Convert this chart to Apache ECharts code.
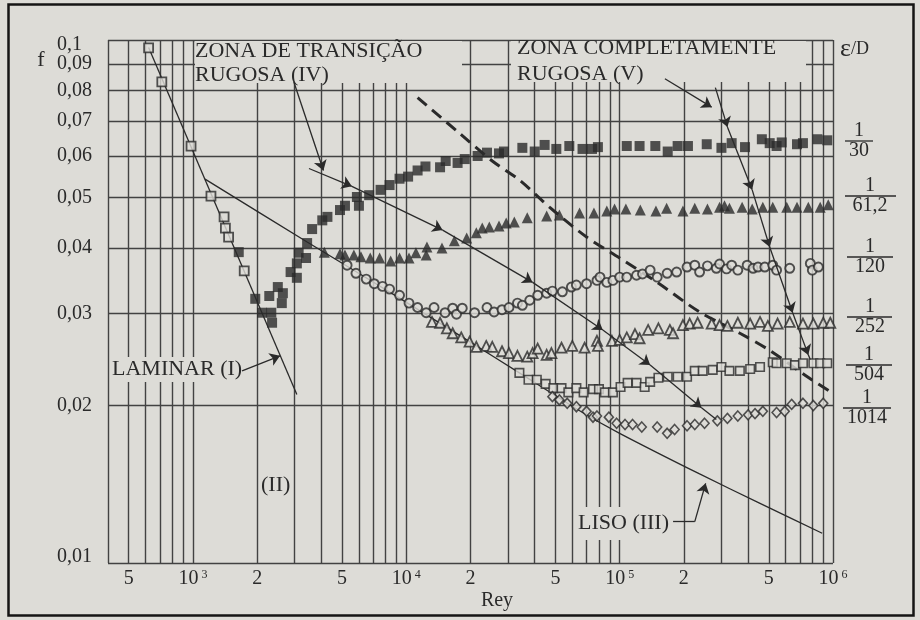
<!DOCTYPE html>
<html><head><meta charset="utf-8">
<script src="https://cdn.jsdelivr.net/npm/echarts@6/dist/echarts.min.js"></script>
<style>html,body{margin:0;padding:0;background:#dddcd7;}#c{width:920px;height:620px;}</style>
</head><body><div id="c"></div><script>
const BG = '#dddcd7', INK = '#2a2a2a', GRIDC = '#424242';
const FONT = '"Liberation Serif","DejaVu Serif",serif';

// ---- axes / grid values ----
const xGrid = [400,500,600,700,800,900,1000,2000,3000,4000,5000,6000,7000,8000,9000,10000,
  20000,30000,40000,50000,60000,70000,80000,90000,100000,200000,300000,400000,500000,600000,700000,800000,900000,1000000];
const yGrid = [0.01,0.02,0.03,0.04,0.05,0.06,0.07,0.08,0.09,0.1];
const xTickValues = [500,1000,2000,5000,10000,20000,50000,100000,200000,500000,1000000];
const xTickLabels = ['5','{n|10}{p|3}','2','5','{n|10}{p|4}','2','5','{n|10}{p|5}','2','5','{n|10}{p|6}'];
const yTickLabels = ['0,01','0,02','0,03','0,04','0,05','0,06','0,07','0,08','0,09','0,1'];

// ---- measured points [Rey, f] ----
const laminarPts = [[620,0.0966],[715,0.0832],[980,0.0627],[1215,0.0503],[1400,0.0459],[1420,0.0437],[1470,0.042],[1740,0.0362]];
const rough30 = [[1640,0.0393],[1960,0.032],[2110,0.0301],[2330,0.0301],[2350,0.0288],[2280,0.0324],[2500,0.0337],[2640,0.0328],[2610,0.0314],[2870,0.036],[3070,0.0374],[3070,0.0351],[3130,0.0392],[3390,0.0383],[3430,0.0409],[3620,0.0435],[4040,0.0452],[4270,0.0459],[4890,0.0473],[5160,0.0482],[5870,0.0501],[6000,0.0482],[6700,0.0505],[7580,0.0517],[8350,0.0528],[9300,0.0543],[10200,0.0548],[11300,0.0563],[12300,0.0573],[14400,0.0571],[15300,0.0587],[17400,0.0582],[18800,0.0592],[21600,0.060],[23900,0.0609],[27200,0.0607],[28700,0.0612],[35000,0.0622],[40000,0.0612],[44500,0.063],[50500,0.0619],[58100,0.0627],[67000,0.0619],[74200,0.0619],[79100,0.0624],[108000,0.0627],[124000,0.0627],[147000,0.0627],[168000,0.0612],[187000,0.0627],[209000,0.0627],[256000,0.0632],[300000,0.0622],[335000,0.0635],[387000,0.0624],[464000,0.0646],[505000,0.0635],[544000,0.0627],[575000,0.0637],[678000,0.0632],[723000,0.0635],[845000,0.0646],[940000,0.0643]];
const rough61 = [[4130,0.0393],[4890,0.039],[5160,0.0388],[5680,0.0388],[6130,0.0385],[6780,0.0383],[7500,0.0383],[8450,0.0378],[9300,0.0383],[10300,0.0383],[11100,0.0392],[12400,0.0388],[12500,0.0402],[14700,0.040],[16800,0.0413],[19200,0.0418],[21300,0.0428],[22700,0.0437],[24500,0.0439],[27200,0.0441],[29400,0.0447],[32100,0.0449],[36900,0.0457],[45500,0.0461],[52200,0.0463],[64900,0.0467],[75800,0.0467],[87100,0.0471],[94700,0.0475],[107000,0.0475],[125000,0.0473],[148000,0.0471],[166000,0.0477],[198000,0.0471],[225000,0.0477],[258000,0.0475],[294000,0.0479],[310000,0.0482],[327000,0.0477],[375000,0.0479],[418000,0.0475],[469000,0.0479],[522000,0.0479],[607000,0.0479],[678000,0.0479],[766000,0.0479],[871000,0.0479],[950000,0.0484]];
const rough120 = [[5280,0.0371],[5810,0.0358],[6490,0.0349],[7080,0.0342],[7740,0.0338],[8350,0.0334],[9300,0.0325],[10300,0.0314],[11300,0.0308],[12400,0.0301],[13500,0.0308],[15200,0.0301],[16500,0.0307],[17200,0.0299],[18300,0.0307],[20900,0.0301],[23900,0.0308],[25800,0.0302],[28100,0.0305],[30300,0.0308],[33200,0.0314],[35000,0.0311],[37900,0.0318],[41300,0.0325],[45500,0.0328],[48400,0.0331],[53900,0.033],[59400,0.0337],[62700,0.034],[70000,0.0342],[78300,0.0347],[80900,0.0352],[87100,0.0344],[93000,0.0347],[100000,0.0352],[108000,0.0352],[120000,0.0355],[128000,0.0357],[139000,0.0363],[150000,0.0352],[167000,0.0358],[185000,0.036],[207000,0.0368],[225000,0.0371],[237000,0.036],[258000,0.037],[284000,0.0366],[294000,0.0373],[317000,0.0365],[335000,0.0371],[358000,0.0363],[396000,0.0371],[422000,0.0366],[445000,0.0368],[479000,0.0368],[522000,0.0371],[544000,0.0363],[627000,0.0366],[783000,0.0374],[800000,0.0363],[854000,0.0368]];
const rough252 = [[13200,0.0289],[14400,0.0288],[15500,0.0281],[16500,0.0275],[18100,0.027],[19800,0.0265],[21300,0.0259],[23700,0.026],[25300,0.0259],[28100,0.0254],[30300,0.0252],[33200,0.0249],[36900,0.0248],[39100,0.0252],[41300,0.0257],[45500,0.025],[47900,0.0252],[53400,0.0258],[60000,0.026],[68500,0.0258],[78300,0.0266],[79100,0.026],[92000,0.0266],[100000,0.0267],[108000,0.027],[118000,0.0274],[124000,0.0269],[136000,0.0279],[152000,0.0281],[172000,0.0279],[178000,0.0275],[198000,0.0285],[213000,0.0287],[232000,0.0288],[270000,0.0287],[294000,0.0285],[320000,0.0284],[358000,0.0288],[409000,0.0287],[455000,0.0289],[495000,0.0284],[550000,0.0287],[627000,0.0289],[723000,0.0287],[809000,0.0287],[900000,0.0288],[971000,0.0288]];
const rough504 = [[33900,0.0231],[37400,0.0224],[40900,0.0224],[45000,0.022],[48900,0.0216],[53400,0.0216],[57500,0.0212],[62700,0.0216],[67800,0.0212],[75000,0.0215],[80000,0.0215],[85300,0.0212],[93000,0.0212],[101000,0.0217],[109000,0.0221],[120000,0.0221],[131000,0.0217],[139000,0.0222],[152000,0.0226],[168000,0.0227],[187000,0.0227],[207000,0.0227],[225000,0.0233],[245000,0.0233],[273000,0.0234],[300000,0.0237],[327000,0.0233],[366000,0.0233],[409000,0.0235],[455000,0.0237],[522000,0.0242],[544000,0.0241],[607000,0.0241],[663000,0.0239],[723000,0.0241],[809000,0.0241],[871000,0.0241],[940000,0.0241]];
const rough1014 = [[48400,0.0208],[52200,0.0205],[56800,0.0202],[62700,0.0199],[70000,0.0195],[75000,0.019],[78300,0.0191],[89000,0.019],[96800,0.0185],[106000,0.0184],[115000,0.0184],[127000,0.0182],[150000,0.0182],[167000,0.0177],[181000,0.018],[207000,0.0183],[225000,0.0184],[250000,0.0185],[287000,0.0187],[320000,0.0189],[358000,0.0191],[400000,0.0192],[431000,0.0193],[469000,0.0195],[544000,0.0194],[594000,0.0195],[640000,0.0201],[723000,0.0202],[809000,0.020],[900000,0.0202]];

// ---- reference curves [Rey, f] ----
const laminarLine = [[620,0.0968],[3070,0.021]];
const smoothLine = [[1140,0.0542],[3430,0.0411],[9300,0.0321],[19800,0.0265],[33900,0.0231],[67000,0.0194],[100000,0.0177],[237000,0.0148],[455000,0.013],[890000,0.0114]];
const transitionLine = [[3500,0.0568],[5560,0.0525],[14800,0.0433],[39100,0.0344],[83400,0.0279],[139000,0.0239],[242000,0.0198],[284000,0.0188]];
const dashedLine = [[11300,0.0776],[17400,0.0668],[25300,0.0587],[33900,0.054],[46900,0.0479],[70000,0.042],[100000,0.0383],[150000,0.0344],[237000,0.0302],[366000,0.0275],[505000,0.0255],[758000,0.0227],[1000000,0.0211]];
const roughLine = [[281000,0.0811],[320000,0.0682],[418000,0.0517],[505000,0.0402],[647000,0.0301],[766000,0.025],[783000,0.0245]];
const arrowIV = [[2970,0.0832],[4090,0.0563]];
const arrowV = [[163000,0.0843],[270000,0.0744]];
const arrowLaminar = [[1700,0.0233],[2560,0.0249]];
const arrowLiso = [[178000,0.012],[225000,0.012],[253000,0.0142]];

// ---- build grid marklines ----
const gridData = [];
xGrid.forEach(v => {
  const i = xTickValues.indexOf(v);
  gridData.push([
    {coord:[v,0.01], label: i >= 0 ? {show:true, position:'start', distance:6, formatter:xTickLabels[i]} : {show:false}},
    {coord:[v,0.1]}
  ]);
});
yGrid.forEach((v,i) => {
  const st = i === 0 ? 'tb' : (i === yGrid.length-1 ? 'tt' : 't');
  gridData.push([
    {coord:[400,v], label:{show:true, position:'start', distance:14, formatter:'{'+st+'|'+yTickLabels[i]+'}'}},
    {coord:[1000000,v]}
  ]);
});

function segs(pts, arrowCount){
  const out = [];
  for (let i = 0; i < pts.length-1; i++){
    out.push([{coord:pts[i], symbol:'none'}, {coord:pts[i+1], symbol: i < arrowCount ? 'arrow' : 'none'}]);
  }
  return out;
}
const annData = [].concat(
  segs(transitionLine, transitionLine.length-2),
  segs(roughLine, roughLine.length-2),
  segs(arrowIV, 1), segs(arrowV, 1), segs(arrowLaminar, 1),
  segs(arrowLiso, 2).map((s,i) => i === 0 ? [s[0], Object.assign({}, s[1], {symbol:'none'})] : s)
);

const tk = {fontFamily:FONT, fontSize:20, color:INK};
function scatter(name, data, symbol, size, filled, bw){
  return {type:'scatter', name, data, symbol, symbolSize:size, z:10, silent:true, animation:false,
    itemStyle: filled ? {color:INK} : {color:BG, borderColor:INK, borderWidth:bw || 1.6}};
}
function curve(data, style, smooth){
  return {type:'line', data, symbol:'none', showSymbol:false, smooth: smooth || 0, z:8, silent:true,
    animation:false, lineStyle:Object.assign({color:INK, width:1.3}, style)};
}

const txt = (text, x, y, opt) => ({type:'text', z:20, silent:true,
  style:Object.assign({text, x, y, font:'22px '+FONT, fill:INK, textAlign:'left', textVerticalAlign:'middle'}, opt||{})});
const rect = (x, y, w, h) => ({type:'rect', z:5, silent:true, shape:{x, y, width:w, height:h}, style:{fill:BG}});
function frac(cx, bx1, bx2, by, num, den){
  return [
    txt(num, cx, by-10, {font:'20px '+FONT, textAlign:'center'}),
    {type:'line', z:20, silent:true, shape:{x1:bx1, y1:by, x2:bx2, y2:by}, style:{stroke:INK, lineWidth:1.3}},
    txt(den, cx, by+10, {font:'20px '+FONT, textAlign:'center'})
  ];
}

const option = {
  backgroundColor: BG,
  animation:false,
  grid:{left:108, top:40, width:725, height:523},
  xAxis:{type:'log', logBase:10, min:400, max:1000000, axisLine:{show:false}, axisTick:{show:false}, axisLabel:{show:false}, splitLine:{show:false}},
  yAxis:{type:'log', logBase:10, min:0.01, max:0.1, axisLine:{show:false}, axisTick:{show:false}, axisLabel:{show:false}, splitLine:{show:false}},
  series:[
    {type:'scatter', data:[[1000,0.05]], symbolSize:0, z:1, silent:true,
      markLine:{z:1, silent:true, animation:false, symbol:['none','none'],
        lineStyle:{color:GRIDC, width:1.4, type:'solid'},
        label:Object.assign({}, tk, {rich:{
          n:{fontFamily:FONT, fontSize:20, color:INK},
          p:{fontFamily:FONT, fontSize:12, color:INK, verticalAlign:'top', padding:[0,0,0,3]},
          t:{fontFamily:FONT, fontSize:20, color:INK, width:37, align:'left'},
          tt:{fontFamily:FONT, fontSize:20, color:INK, width:37, align:'left', padding:[10,0,0,0]},
          tb:{fontFamily:FONT, fontSize:20, color:INK, width:37, align:'left', padding:[0,0,12,0]}
        }}),
        emphasis:{disabled:true},
        data:gridData}},
    curve(laminarLine, {}),
    curve(smoothLine, {}, 0.25),
    curve(dashedLine, {type:[12,7], width:3}, 0.3),
    {type:'scatter', data:[[1000,0.05]], symbolSize:0, z:12, silent:true,
      markLine:{z:15, silent:true, animation:false, symbol:['none','none'], symbolSize:10,
        lineStyle:{color:INK, width:1.3, type:'solid'}, label:{show:false}, emphasis:{disabled:true},
        data:annData}},
    scatter('laminar', laminarPts, 'rect', 9, false, 1.8),
    scatter('1/30', rough30, 'rect', 10, true),
    scatter('1/61,2', rough61, 'triangle', 11, true),
    scatter('1/120', rough120, 'circle', 9, false, 1.9),
    scatter('1/252', rough252, 'triangle', 10, false, 1.8),
    scatter('1/504', rough504, 'rect', 8.5, false, 1.6),
    scatter('1/1014', rough1014, 'diamond', [9,10], false, 1.6)
  ],
  graphic:[].concat([
    rect(195,41,267,42), rect(511,41,295,41), rect(111,357,133,25), rect(575,507,96,33),
    txt('ZONA DE TRANSIÇÃO', 195, 51), txt('RUGOSA (IV)', 195, 75),
    txt('ZONA COMPLETAMENTE', 517, 48), txt('RUGOSA (V)', 517, 74),
    txt('LAMINAR (I)', 112, 369), txt('LISO (III)', 578, 523), txt('(II)', 261, 485),
    txt('f', 41, 60, {textAlign:'center'}),
    txt('Rey', 497, 601, {font:'20px '+FONT, textAlign:'center'}),
    {type:'text', z:20, silent:true, style:{text:'{e|ε}{d|/D}', x:840, y:49, textVerticalAlign:'middle', fill:INK,
      rich:{e:{fontFamily:FONT, fontSize:26, fill:INK, color:INK}, d:{fontFamily:FONT, fontSize:18, fill:INK, color:INK}}}},
    {type:'rect', z:50, silent:true, shape:{x:8.5, y:4.5, width:905, height:611}, style:{fill:'none', stroke:'#151515', lineWidth:2.5}}
  ],
    frac(859,845,873,141,'1','30'),
    frac(870,845,896,196,'1','61,2'),
    frac(870,847,893,257,'1','120'),
    frac(870,847,892,317,'1','252'),
    frac(869,846,892,365,'1','504'),
    frac(867,843,891,408,'1','1014')
  )
};
const chart = echarts.init(document.getElementById('c'));
chart.setOption(option);
</script></body></html>
